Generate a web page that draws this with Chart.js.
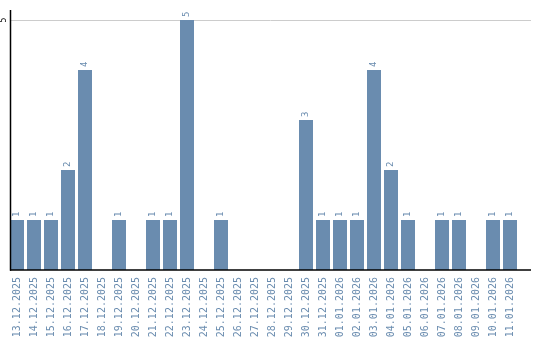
<!DOCTYPE html>
<html><head><meta charset="utf-8">
<script src="https://cdn.jsdelivr.net/npm/chart.js@4/dist/chart.umd.min.js"></script>
<style>html,body{margin:0;padding:0;background:#fff;}canvas{display:block;}</style>
</head><body>
<canvas id="c" width="540" height="340"></canvas>
<script>
const categories = ["13.12.2025","14.12.2025","15.12.2025","16.12.2025","17.12.2025","18.12.2025","19.12.2025","20.12.2025","21.12.2025","22.12.2025","23.12.2025","24.12.2025","25.12.2025","26.12.2025","27.12.2025","28.12.2025","29.12.2025","30.12.2025","31.12.2025","01.01.2026","02.01.2026","03.01.2026","04.01.2026","05.01.2026","06.01.2026","07.01.2026","08.01.2026","09.01.2026","10.01.2026","11.01.2026"];
const values = [1,1,1,2,4,0,1,0,1,1,5,0,1,0,0,0,0,3,1,1,1,4,2,1,0,1,1,0,1,1];
const yTicks = [5];
const yMax = 5.2;

const BLUE = '#6a8caf';
const MONO = '"DejaVu Sans Mono", monospace';

const decorations = {
  id: 'decorations',
  beforeDatasetsDraw(chart) {
    const ctx = chart.ctx;
    const ys = chart.scales.y;
    ctx.save();
    // gridlines
    ctx.strokeStyle = '#cccccc';
    ctx.lineWidth = 1;
    yTicks.forEach(t => {
      const y = Math.round(ys.getPixelForValue(t)) + 0.5;
      ctx.beginPath(); ctx.moveTo(10, y); ctx.lineTo(531, y); ctx.stroke();
    });
    ctx.restore();
  },
  afterDatasetsDraw(chart) {
    const ctx = chart.ctx;
    const meta = chart.getDatasetMeta(0);
    const ys = chart.scales.y;
    ctx.save();
    // axes
    ctx.strokeStyle = '#000';
    ctx.lineWidth = 1.5;
    const y0 = ys.getPixelForValue(0);
    const yTop = ys.getPixelForValue(yMax);
    ctx.beginPath(); ctx.moveTo(10.5, yTop); ctx.lineTo(10.5, y0 + 0.75); ctx.stroke();
    ctx.beginPath(); ctx.moveTo(10, y0); ctx.lineTo(531, y0); ctx.stroke();
    // value labels
    ctx.fillStyle = BLUE;
    ctx.font = '9px ' + MONO;
    ctx.textAlign = 'left';
    ctx.textBaseline = 'middle';
    meta.data.forEach((bar, i) => {
      const v = values[i];
      if (!v) return;
      ctx.save();
      ctx.translate(bar.x, bar.y - 3);
      ctx.rotate(-Math.PI / 2);
      ctx.fillText(String(v), 0, 0);
      ctx.restore();
    });
    // y tick labels (rotated)
    ctx.fillStyle = '#000';
    ctx.font = '8px ' + MONO;
    ctx.textAlign = 'center';
    ctx.textBaseline = 'middle';
    yTicks.forEach(t => {
      ctx.save();
      ctx.translate(4, ys.getPixelForValue(t));
      ctx.rotate(-Math.PI / 2);
      ctx.fillText(String(t), 0, 0);
      ctx.restore();
    });
    ctx.restore();
  }
};

new Chart(document.getElementById('c'), {
  type: 'bar',
  data: {
    labels: categories,
    datasets: [{
      data: values,
      backgroundColor: BLUE,
      borderWidth: 0,
      barPercentage: 14 / 17,
      categoryPercentage: 1.0
    }]
  },
  options: {
    responsive: false,
    animation: false,
    layout: { padding: { left: 8.5, right: 21.5, top: 10, bottom: 0 } },
    plugins: { legend: { display: false }, tooltip: { enabled: false } },
    scales: {
      x: {
        afterFit: (s) => { s.height = 70; },
        grid: { display: false, drawTicks: false },
        border: { display: false },
        ticks: {
          color: BLUE,
          font: { family: MONO, size: 10 },
          minRotation: 90, maxRotation: 90,
          autoSkip: false,
          padding: 7
        }
      },
      y: {
        min: 0, max: yMax,
        afterFit: (s) => { s.width = 0; },
        afterBuildTicks: (s) => { s.ticks = yTicks.map(v => ({ value: v })); },
        grid: { display: false, drawTicks: false },
        border: { display: false },
        ticks: { display: false }
      }
    }
  },
  plugins: [decorations]
});
</script>
</body></html>
